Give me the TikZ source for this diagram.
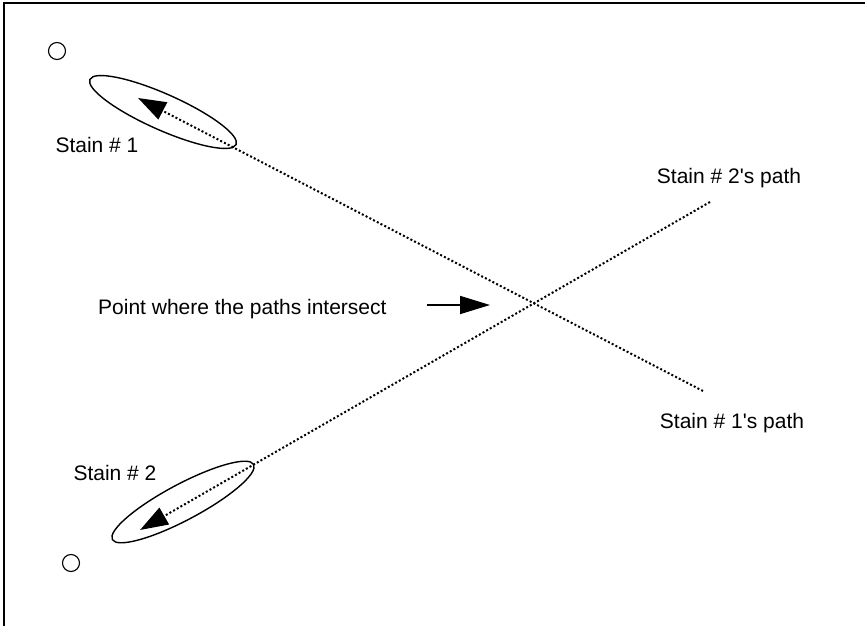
\documentclass[tikz,border=0pt]{standalone}
\usepackage{fontspec}
\setmainfont{Liberation Sans}
\usetikzlibrary{arrows.meta,shapes.geometric}
\tikzset{
  lbl/.style={inner sep=0pt,font=\fontsize{21}{25}\selectfont},
  stain/.style={draw,ellipse,line width=1.4pt,inner sep=0pt,minimum width=160pt,minimum height=36pt},
  dotpath/.style={line width=2pt,dash pattern=on 2pt off 2.2pt,-{Triangle[length=28pt,width=19pt]}},
  hole/.style={circle,draw,line width=1.1pt,inner sep=0pt,minimum size=17pt}
}
\begin{document}
\begin{tikzpicture}[x=1pt,y=-1pt]
\useasboundingbox (0,0) rectangle (865,626);
% frame
\draw[line width=1.5pt] (4,626) -- (4,3) -- (865,3);
% holes
\node[hole] (holeA) at (57,51) {};
\node[hole] (holeB) at (71,563) {};
% stains
\node[stain,rotate=-24] (stainA) at (163,112) {};
\node[stain,rotate=28] (stainB) at (183,502) {};
\node[lbl] (lblA) at (97,145) {Stain \# 1};
\node[lbl] (lblB) at (115,473) {Stain \# 2};
% paths
\coordinate (endA) at (703,391);
\coordinate (tipA) at (138,98);
\coordinate (endB) at (710,202);
\coordinate (tipB) at (140,530);
\draw[dotpath] (endA) -- (tipA);
\draw[dotpath] (endB) -- (tipB);
\node[lbl] (pathA) at (732,423) {Stain \# 1\textquotesingle s path};
\node[lbl] (pathB) at (729,178) {Stain \# 2\textquotesingle s path};
% intersection
\node[lbl,anchor=west] (cross) at (98,309) {Point where the paths intersect};
\coordinate (arrfrom) at (427,305);
\coordinate (arrto) at (490,305);
\draw[line width=1.8pt,-{Triangle[length=30pt,width=18pt]}] (arrfrom) -- (arrto);
\end{tikzpicture}
\end{document}
